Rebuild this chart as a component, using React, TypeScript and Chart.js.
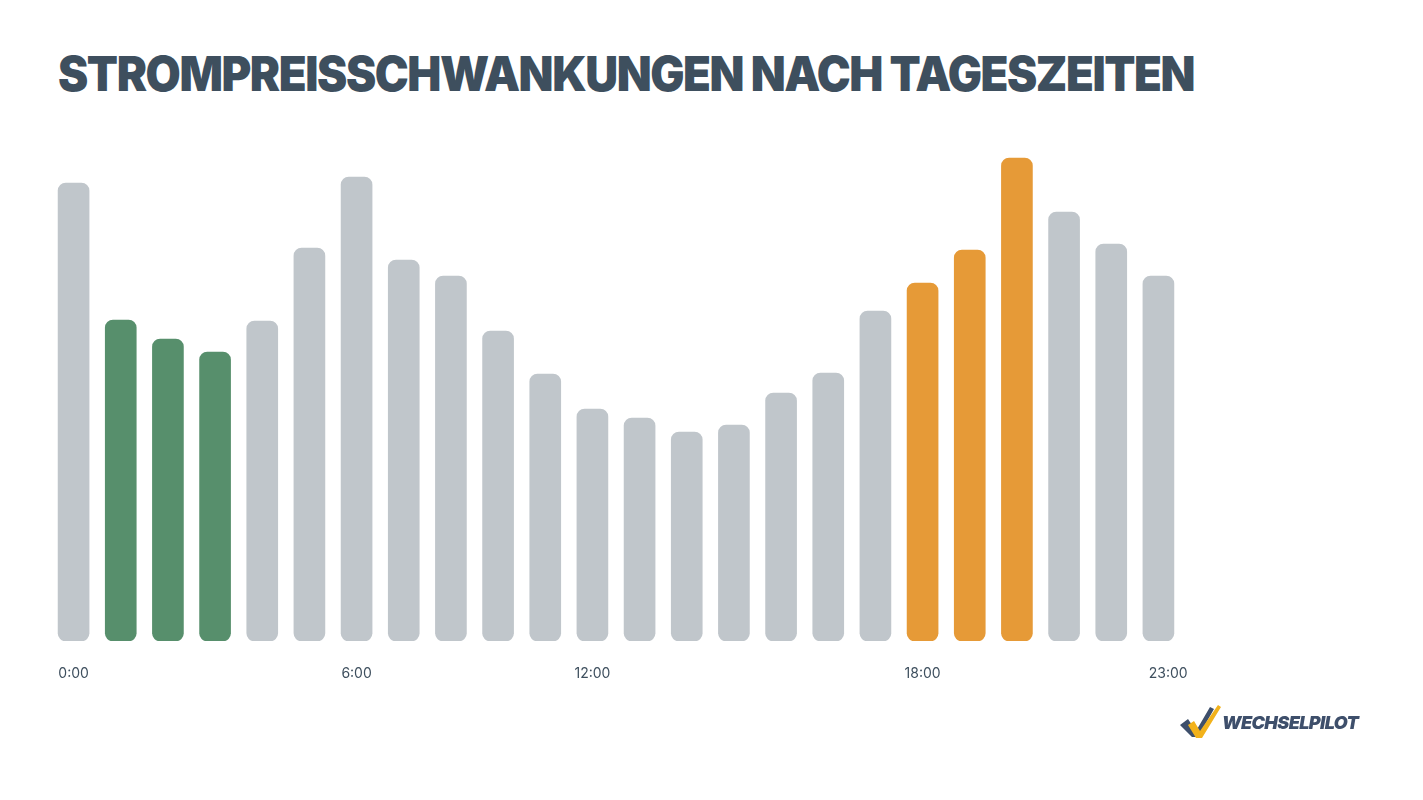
import React, { useEffect, useRef } from "react";
import { Chart, registerables } from "chart.js";

Chart.register(...registerables);

const hours = Array.from({ length: 24 }, (_, i) => `${i}:00`);
const tickLabels = ["0:00", "", "", "", "", "", "6:00", "", "", "", "", "12:00", "", "", "", "", "", "", "18:00", "", "", "", "", "     23:00"];
const prices = [45.8, 32.1, 30.2, 28.9, 32.0, 39.3, 46.4, 38.1, 36.5, 31.0, 26.7, 23.2, 22.3, 20.9, 21.6, 24.8, 26.8, 33.0, 35.8, 39.1, 48.3, 42.9, 39.7, 36.5];
const cheapHours = [1, 2, 3];
const peakHours = [18, 19, 20];

const GREY = "#c0c6cb";
const GREEN = "#578f6c";
const ORANGE = "#e69a37";
const TEXT = "#3e4f5e";

export default function App() {
  const ref = useRef<HTMLCanvasElement>(null);
  useEffect(() => {
    if (!ref.current) return;
    const colors = prices.map((_, i) =>
      cheapHours.includes(i) ? GREEN : peakHours.includes(i) ? ORANGE : GREY
    );
    const chart = new Chart(ref.current, {
      type: "bar",
      data: {
        labels: hours,
        datasets: [
          {
            data: prices,
            backgroundColor: colors,
            borderRadius: 8,
            borderSkipped: false,
            barThickness: 31,
          },
        ],
      },
      options: {
        animation: false,
        responsive: false,
        maintainAspectRatio: false,
        layout: { padding: { top: 141, left: 50, right: 241, bottom: 119 } },
        plugins: { legend: { display: false }, tooltip: { enabled: false }, title: { display: false } },
        scales: {
          y: { display: false, min: 0, max: 50 },
          x: {
            grid: { display: false, drawTicks: false },
            border: { display: false },
            afterFit: (s: any) => {
              s.height = 40;
            },
            ticks: {
              autoSkip: false,
              maxRotation: 0,
              padding: 24,
              color: TEXT,
              font: { family: "Inter", size: 14 },
              callback: (_v: any, i: number) => tickLabels[i],
            },
          },
        },
      },
    });
    return () => chart.destroy();
  }, []);

  return (
    <div style={{ position: "fixed", left: 0, top: 0, width: 1423, height: 800, background: "#fff", overflow: "hidden" }}>
      <div
        style={{
          position: "absolute",
          left: 58,
          top: 44,
          fontFamily: "Inter",
          fontWeight: 900,
          fontSize: 48,
          letterSpacing: -1.5,
          color: TEXT,
          whiteSpace: "nowrap",
          lineHeight: "60px",
          transform: "scaleX(0.947)",
          transformOrigin: "left center",
        }}
      >
        STROMPREISSCHWANKUNGEN NACH TAGESZEITEN
      </div>
      <canvas ref={ref} width={1423} height={800} style={{ position: "absolute", left: 0, top: 0, width: 1423, height: 800 }} />
      <div style={{ position: "absolute", left: 1180, top: 705, display: "flex", alignItems: "center" }}>
        <svg width={42} height={34} viewBox="0 0 42 34">
          <polygon points="0,20 8,14 16,26 30,2 34,4 18,32 12,32" fill="#3e4f6b" />
          <polygon points="8,20 14,16 20,26 38,0 41,2 22,33 16,33" fill="#f2b21b" />
        </svg>
        <span
          style={{
            fontFamily: "Inter",
            fontWeight: 900,
            fontStyle: "italic",
            fontSize: 18,
            color: "#3e4f6b",
            marginLeft: 0,
            letterSpacing: -0.6,
          }}
        >
          WECHSELPILOT
        </span>
      </div>
    </div>
  );
}
